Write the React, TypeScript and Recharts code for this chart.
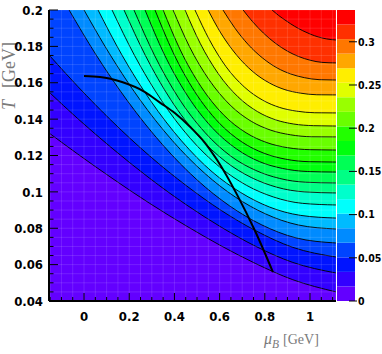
import {
  Area,
  Bar,
  BarChart,
  CartesianGrid,
  ComposedChart,
  Line,
  XAxis,
  YAxis,
} from "recharts";

// contour lines as [mu_B, T] pairs, lowest level first
const c01 = [[-0.155, 0.1324], [-0.028, 0.1208], [0.124, 0.1075], [0.289, 0.0938], [0.455, 0.0811], [0.607, 0.0703], [0.759, 0.0606], [0.924, 0.0517], [1.115, 0.045]];
const c02 = [[-0.155, 0.1549], [-0.028, 0.1403], [0.124, 0.124], [0.289, 0.1076], [0.455, 0.0927], [0.607, 0.0806], [0.759, 0.0701], [0.924, 0.0612], [1.115, 0.0554]];
const c03 = [[-0.155, 0.1753], [-0.028, 0.158], [0.124, 0.1388], [0.289, 0.1199], [0.455, 0.1032], [0.607, 0.0898], [0.759, 0.0787], [0.924, 0.0695], [1.115, 0.0642]];
const c04 = [[-0.066, 0.2], [0.052, 0.1756], [0.193, 0.1499], [0.347, 0.126], [0.501, 0.1065], [0.643, 0.0924], [0.784, 0.082], [0.938, 0.0747], [1.115, 0.0719]];
const c05 = [[0, 0.2], [0.112, 0.1761], [0.245, 0.1511], [0.39, 0.1283], [0.535, 0.1101], [0.669, 0.0972], [0.803, 0.0879], [0.948, 0.0818], [1.115, 0.0796]];
const c06 = [[0.062, 0.2], [0.167, 0.1754], [0.294, 0.1502], [0.431, 0.1281], [0.567, 0.111], [0.694, 0.0996], [0.82, 0.0917], [0.957, 0.0871], [1.115, 0.0856]];
const c07 = [[0.124, 0.2], [0.223, 0.1751], [0.342, 0.1504], [0.471, 0.1293], [0.6, 0.1137], [0.719, 0.1036], [0.838, 0.0972], [0.966, 0.0937], [1.115, 0.0928]];
const c08 = [[0.177, 0.2], [0.271, 0.1751], [0.383, 0.1508], [0.505, 0.1308], [0.627, 0.1166], [0.74, 0.1079], [0.852, 0.1026], [0.974, 0.1], [1.115, 0.0994]];
const c09 = [[0.221, 0.2], [0.311, 0.1753], [0.418, 0.1517], [0.534, 0.1328], [0.65, 0.1196], [0.758, 0.1119], [0.865, 0.1074], [0.981, 0.1053], [1.115, 0.1049]];
const c10 = [[0.27, 0.2], [0.354, 0.1759], [0.456, 0.1532], [0.566, 0.1354], [0.676, 0.1235], [0.777, 0.1166], [0.878, 0.1129], [0.988, 0.1112], [1.115, 0.1109]];
const c11 = [[0.314, 0.2], [0.394, 0.1767], [0.49, 0.1551], [0.594, 0.1384], [0.699, 0.1274], [0.795, 0.1213], [0.891, 0.118], [0.995, 0.1166], [1.115, 0.1164]];
const c12 = [[0.35, 0.2], [0.426, 0.178], [0.518, 0.1578], [0.617, 0.1424], [0.717, 0.1325], [0.809, 0.1271], [0.901, 0.1243], [1.0, 0.1232], [1.115, 0.123]];
const c13 = [[0.394, 0.2], [0.466, 0.18], [0.553, 0.1617], [0.646, 0.1478], [0.74, 0.1388], [0.827, 0.1339], [0.913, 0.1314], [1.007, 0.1303], [1.115, 0.1302]];
const c14 = [[0.447, 0.2], [0.514, 0.1817], [0.594, 0.165], [0.681, 0.1523], [0.768, 0.1441], [0.848, 0.1396], [0.928, 0.1373], [1.015, 0.1364], [1.115, 0.1362]];
const c15 = [[0.491, 0.2], [0.554, 0.1838], [0.628, 0.1689], [0.709, 0.1577], [0.791, 0.1504], [0.866, 0.1464], [0.94, 0.1444], [1.021, 0.1435], [1.115, 0.1434]];
const c16 = [[0.549, 0.2], [0.605, 0.1874], [0.674, 0.1754], [0.747, 0.1661], [0.82, 0.1599], [0.889, 0.1562], [0.957, 0.1543], [1.03, 0.1534], [1.115, 0.1533]];
const c17 = [[0.615, 0.2], [0.665, 0.1905], [0.725, 0.1812], [0.79, 0.1736], [0.855, 0.1681], [0.915, 0.1648], [0.975, 0.1628], [1.04, 0.1617], [1.115, 0.1615]];
const c18 = [[0.704, 0.2], [0.745, 0.1937], [0.794, 0.1873], [0.847, 0.1817], [0.901, 0.1773], [0.95, 0.1744], [1.0, 0.1724], [1.053, 0.1712], [1.115, 0.1709]];
const c19 = [[0.832, 0.2], [0.86, 0.1971], [0.894, 0.1941], [0.931, 0.1911], [0.968, 0.1886], [1.002, 0.1867], [1.036, 0.1852], [1.073, 0.1841], [1.115, 0.1835]];

// thick curve
const freezeOut = [[0, 0.1637], [0.071, 0.1632], [0.168, 0.1604], [0.27, 0.1549], [0.336, 0.1491], [0.403, 0.1432], [0.469, 0.1358], [0.535, 0.127], [0.589, 0.1175], [0.677, 0.0985], [0.757, 0.0785], [0.836, 0.0559]];

// colour scale edges (20 bands)
const zEdges = [0, 0.0168, 0.0337, 0.0505, 0.0674, 0.0842, 0.101, 0.1179, 0.1347, 0.1516, 0.1684, 0.1852, 0.2021, 0.2189, 0.2358, 0.2526, 0.2694, 0.2863, 0.3031, 0.32, 0.3368];
const zTicks = [0, 0.05, 0.1, 0.15, 0.2, 0.25, 0.3];

const xMajor = [0, 0.2, 0.4, 0.6, 0.8, 1];
const xTicks = [-0.15, -0.1, -0.05, 0, 0.05, 0.1, 0.15, 0.2, 0.25, 0.3, 0.35, 0.4, 0.45, 0.5, 0.55, 0.6, 0.65, 0.7, 0.75, 0.8, 0.85, 0.9, 0.95, 1, 1.05, 1.1];
const yMajor = [0.04, 0.06, 0.08, 0.1, 0.12, 0.14, 0.16, 0.18, 0.2];
const yTicks = [0.04, 0.045, 0.05, 0.055, 0.06, 0.065, 0.07, 0.075, 0.08, 0.085, 0.09, 0.095, 0.1, 0.105, 0.11, 0.115, 0.12, 0.125, 0.13, 0.135, 0.14, 0.145, 0.15, 0.155, 0.16, 0.165, 0.17, 0.175, 0.18, 0.185, 0.19, 0.195, 0.2];

// ROOT "pretty" palette picks, violet -> red
const bandColors = [
  "#6300ff", "#3300ff", "#0014ff", "#0044ff", "#008bff",
  "#00bbff", "#00fffc", "#00ffcc", "#00ff85", "#00ff55",
  "#00ff0e", "#22ff00", "#69ff00", "#99ff00", "#e0ff00",
  "#ffee00", "#ffa700", "#ff7700", "#ff3000", "#ff0000",
];

const contours = [c01, c02, c03, c04, c05, c06, c07, c08, c09, c10, c11, c12, c13, c14, c15, c16, c17, c18, c19];

const xDomain = [-0.155, 1.115];
const yDomain = [0.04, 0.2];

const W = 382;
const H = 354;
const frameMargin = { top: 10, right: 46, bottom: 0, left: 0 };

const tickFont = {
  fontFamily: "'Liberation Sans Narrow', 'DejaVu Sans Condensed', Arial, sans-serif",
  fontWeight: 700,
  fontSize: 13,
  fill: "#000",
};
const serif = "'Liberation Serif', 'DejaVu Serif', serif";

const toPoints = (pts: number[][]) => pts.map(([mu, T]) => ({ mu, T }));
const isMajor = (v: number, list: number[]) => list.some((m) => Math.abs(m - v) < 1e-6);
const fmt = (v: number) => String(Number(v.toFixed(3)));

function LeftTick(props: any) {
  const { x, y, payload } = props;
  const major = isMajor(payload.value, yMajor);
  return (
    <g>
      <line x1={x} x2={x + (major ? 9 : 4.5)} y1={y} y2={y} stroke="#000" strokeWidth={1} />
      {major && (
        <text x={x - 6} y={y} dy="0.36em" textAnchor="end" style={tickFont}>
          {fmt(payload.value)}
        </text>
      )}
    </g>
  );
}

function BottomTick(props: any) {
  const { x, y, payload } = props;
  const major = isMajor(payload.value, xMajor);
  return (
    <g>
      <line x1={x} x2={x} y1={y} y2={y - (major ? 8 : 4)} stroke="#000" strokeWidth={1} />
      {major && (
        <text x={x} y={y + 20} textAnchor="middle" style={tickFont}>
          {fmt(payload.value)}
        </text>
      )}
    </g>
  );
}

function ScaleTick(props: any) {
  const { x, y, payload } = props;
  return (
    <g>
      <line x1={x - 6} x2={x + 2} y1={y} y2={y} stroke="#000" strokeWidth={1} />
      <text x={x + 3} y={y} dy="0.36em" textAnchor="start" style={{ ...tickFont, fontSize: 10.5 }}>
        {fmt(payload.value)}
      </text>
    </g>
  );
}

function YTitle(props: any) {
  const vb = props.viewBox ?? { x: 0, y: 10 };
  return (
    <text
      transform={`translate(${vb.x + 15},${vb.y + 100}) rotate(-90)`}
      fill="#7a7a7a"
      fontFamily={serif}
      fontSize={18}
    >
      <tspan fontStyle="italic">T</tspan>
      <tspan dx={12}>[GeV]</tspan>
    </text>
  );
}

function XTitle(props: any) {
  const vb = props.viewBox ?? { x: 49, y: 301 };
  return (
    <text x={vb.x + 215} y={vb.y + 43} fill="#7a7a7a" fontFamily={serif} fontSize={16}>
      <tspan fontStyle="italic">μ</tspan>
      <tspan fontStyle="italic" fontSize={11.5} dy={4}>B</tspan>
      <tspan fontSize={14} dx={4} dy={-4}>[GeV]</tspan>
    </text>
  );
}

export default function App() {
  const barRow = [
    Object.fromEntries(bandColors.map((_, i) => [`b${i}`, zEdges[i + 1] - zEdges[i]])),
  ];

  return (
    <div style={{ position: "absolute", left: 0, top: 0, width: W, height: H, background: "#fff" }}>
      {/* filled contour bands */}
      <div style={{ position: "absolute", left: 0, top: 0 }}>
        <ComposedChart width={W} height={H} margin={{ top: 10, right: 46, bottom: 53, left: 49 }}>
          <CartesianGrid fill={bandColors[0]} horizontal={false} vertical={false} />
          <XAxis dataKey="mu" type="number" domain={xDomain} allowDataOverflow hide />
          <YAxis type="number" domain={yDomain} allowDataOverflow hide />
          {contours.map((c, i) => (
            <Area
              key={i}
              data={toPoints(c)}
              dataKey="T"
              type="monotone"
              baseValue="dataMax"
              fill={bandColors[i + 1]}
              fillOpacity={1}
              stroke="#000"
              strokeWidth={0.9}
              dot={false}
              activeDot={false}
              isAnimationActive={false}
            />
          ))}
        </ComposedChart>
      </div>

      {/* thick curve, frame, ticks and titles on top */}
      <div style={{ position: "absolute", left: 0, top: 0 }}>
        <ComposedChart width={W} height={H} margin={frameMargin}>
          <CartesianGrid stroke="rgba(255,255,255,0.12)" />
          <XAxis
            dataKey="mu"
            type="number"
            domain={xDomain}
            allowDataOverflow
            ticks={xTicks}
            interval={0}
            tick={BottomTick}
            tickLine={false}
            tickSize={0}
            tickMargin={0}
            axisLine={{ stroke: "#000", strokeWidth: 2 }}
            height={53}
            label={XTitle}
          />
          <YAxis
            type="number"
            domain={yDomain}
            allowDataOverflow
            ticks={yTicks}
            interval={0}
            tick={LeftTick}
            tickLine={false}
            tickSize={0}
            tickMargin={0}
            axisLine={{ stroke: "#000", strokeWidth: 2 }}
            width={49}
            label={YTitle}
          />
          <XAxis
            xAxisId="top"
            orientation="top"
            type="number"
            domain={xDomain}
            allowDataOverflow
            height={0}
            tick={false}
            tickLine={false}
            axisLine={{ stroke: "#222", strokeWidth: 1.5 }}
          />
          <YAxis
            yAxisId="right"
            orientation="right"
            type="number"
            domain={yDomain}
            allowDataOverflow
            width={0}
            tick={false}
            tickLine={false}
            axisLine={{ stroke: "#222", strokeWidth: 1.5 }}
          />
          <Line
            data={toPoints(freezeOut)}
            dataKey="T"
            type="monotone"
            stroke="#000"
            strokeWidth={2}
            dot={false}
            activeDot={false}
            isAnimationActive={false}
          />
        </ComposedChart>
      </div>

      {/* colour scale */}
      <div style={{ position: "absolute", left: 337, top: 0 }}>
        <BarChart
          width={45}
          height={H}
          data={barRow}
          margin={{ top: 10, right: 0, bottom: 53, left: 0 }}
          barCategoryGap={0}
          barGap={0}
        >
          <XAxis hide />
          <YAxis
            orientation="right"
            type="number"
            domain={[0, zEdges[zEdges.length - 1]]}
            allowDataOverflow
            ticks={zTicks}
            interval={0}
            tick={ScaleTick}
            tickLine={false}
            tickSize={0}
            tickMargin={0}
            axisLine={false}
            width={27}
          />
          {bandColors.map((col, i) => (
            <Bar key={i} dataKey={`b${i}`} stackId="z" fill={col} isAnimationActive={false} />
          ))}
        </BarChart>
      </div>
    </div>
  );
}
